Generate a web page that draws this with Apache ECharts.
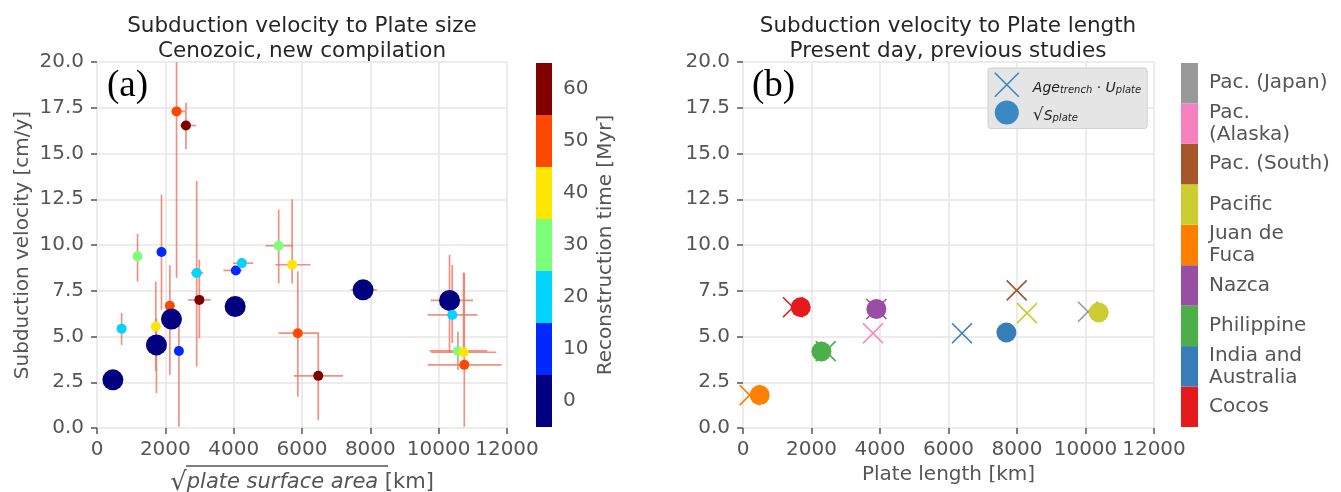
<!DOCTYPE html>
<html>
<head>
<meta charset="utf-8">
<script src="https://cdn.jsdelivr.net/npm/echarts@6/dist/echarts.min.js"></script>
<style>
html,body{margin:0;padding:0;background:#fff;}
#c{width:1341px;height:492px;}
</style>
</head>
<body>
<div id="c"></div>
<script>
// ---------- Panel (a): Cenozoic compilation ----------
const aX    = [465, 720, 1186, 1888, 1720, 1740, 2132, 2180, 2397, 2329, 2603, 2917, 2995, 4044, 4064, 4240, 5318, 5711, 5877, 6476, 7788, 10318, 10397, 10564, 10730, 10750];
const aY    = [2.63, 5.43, 9.38, 9.62, 5.55, 4.54, 6.68, 5.95, 4.21, 17.3, 16.53, 8.47, 7.0, 6.64, 8.61, 9.01, 9.96, 8.92, 5.18, 2.85, 7.55, 6.97, 6.18, 4.21, 4.14, 3.45];
const aT    = [0, 20, 30, 10, 40, 0, 50, 0, 10, 50, 60, 20, 60, 0, 10, 20, 30, 40, 50, 60, 0, 0, 20, 30, 40, 50];
const aXlo  = [465, 720, 1186, 1888, 1720, 1740, 2132, 2180, 2397, 2182, 2426, 2750, 2670, 4000, 3700, 3985, 4926, 5220, 5318, 5760, 7426, 9760, 9680, 9730, 9780, 9680];
const aXhi  = [465, 720, 1186, 1888, 1720, 1740, 2132, 2180, 2397, 2573, 2897, 3110, 3330, 4090, 4250, 4575, 5730, 6250, 6500, 7200, 8190, 11005, 11130, 11420, 11690, 11840];
const aYlo  = [2.63, 4.54, 8.0, 6.46, 3.1, 1.9, 2.9, 5.95, 0.07, 8.2, 15.25, 3.36, 4.9, 6.3, 8.61, 9.01, 7.9, 7.9, 1.71, 0.44, 7.55, 4.1, 4.65, 3.17, 4.1, 0.07];
const aYhi  = [2.63, 6.28, 10.6, 12.75, 8.0, 6.0, 8.9, 5.95, 6.1, 20.0, 17.77, 13.5, 9.2, 7.0, 8.61, 9.01, 11.93, 12.5, 8.56, 5.18, 7.55, 9.47, 8.9, 5.27, 8.5, 8.47];
const timeEdges  = [-5, 5, 15, 25, 35, 45, 55, 65];
const timeTicks  = [0, 10, 20, 30, 40, 50, 60];
const timeColors = ['#000080', '#0028ff', '#00d4ff', '#7dff7a', '#ffe600', '#ff4800', '#800000'];

// ---------- Panel (b): present day, previous studies ----------
const plates      = ['Cocos', 'India and Australia', 'Philippine', 'Nazca', 'Juan de Fuca', 'Pacific', 'Pac. (South)', 'Pac. (Alaska)', 'Pac. (Japan)'];
const plateLabels = ['Cocos', 'India and\nAustralia', 'Philippine', 'Nazca', 'Juan de\nFuca', 'Pacific', 'Pac. (South)', 'Pac.\n(Alaska)', 'Pac. (Japan)'];
const plateColors = ['#e41a1c', '#377eb8', '#4daf4a', '#984ea3', '#ff7f00', '#cccc33', '#a65628', '#f781bf', '#999999'];
const ageX  = [1460, 6394, 2415, 3895, 196, 8292, 7991, 3796, 10073];
const ageY  = [6.6, 5.18, 4.2, 6.5, 1.8, 6.28, 7.52, 5.18, 6.35];
const sqrtX = [1685, 7690, 2289, 3895, 488, 10385, null, null, null];
const sqrtY = [6.6, 5.22, 4.18, 6.5, 1.8, 6.31, null, null, null];

const xTicks = [0, 2000, 4000, 6000, 8000, 10000, 12000];
const yTicks = [0, 2.5, 5, 7.5, 10, 12.5, 15, 17.5, 20];

const FONT = 'DejaVu Sans';
const LABEL = '#555555';
const GRIDC = '#e6e6e6';
const X_PATH = 'path://M0,0L10,10M10,0L0,10';

const chart = echarts.init(document.getElementById('c'), null, {renderer: 'canvas'});

function valueX(gi) {
  return {
    type: 'value', gridIndex: gi, min: xTicks[0], max: xTicks[xTicks.length - 1], interval: xTicks[1] - xTicks[0],
    axisLine: {show: false},
    axisTick: {show: true, length: 6, lineStyle: {color: LABEL, width: 1.5}},
    axisLabel: {fontSize: 20, color: LABEL, margin: 12, fontFamily: FONT, showMinLabel: true, showMaxLabel: true, hideOverlap: false, formatter: v => String(v)},
    splitLine: {show: true, lineStyle: {color: GRIDC, width: 1.5}}
  };
}
function valueY(gi) {
  return {
    type: 'value', gridIndex: gi, min: yTicks[0], max: yTicks[yTicks.length - 1], interval: yTicks[1] - yTicks[0],
    axisLine: {show: false},
    axisTick: {show: true, length: 6, lineStyle: {color: LABEL, width: 1.5}},
    axisLabel: {fontSize: 20, color: LABEL, margin: 13, fontFamily: FONT, formatter: v => v.toFixed(1)},
    splitLine: {show: true, lineStyle: {color: GRIDC, width: 1.5}}
  };
}

const xA = valueX(0);
xA.name = '{r|√}{i|plate surface area}{n| [km]}';
xA.nameLocation = 'middle';
xA.nameGap = 42;
xA.nameTextStyle = {color: LABEL, fontFamily: FONT, fontSize: 21,
  rich: {r: {fontSize: 26, color: LABEL, fontFamily: FONT}, i: {fontSize: 21, fontStyle: 'italic', color: LABEL, fontFamily: FONT}, n: {fontSize: 21, color: LABEL, fontFamily: FONT}}};
const yA = valueY(0);
yA.name = 'Subduction velocity [cm/y]';
yA.nameLocation = 'middle';
yA.nameGap = 64;
yA.nameTextStyle = {color: LABEL, fontSize: 20, fontFamily: FONT};

const xB = valueX(2);
xB.name = 'Plate length [km]';
xB.nameLocation = 'middle';
xB.nameGap = 32;
xB.nameTextStyle = {color: LABEL, fontSize: 20, fontFamily: FONT};
const yB = valueY(2);

const option = {
  animation: false,
  backgroundColor: '#ffffff',
  textStyle: {fontFamily: FONT},
  grid: [
    {left: 97, top: 62, width: 410, height: 366, outerBoundsMode: 'none', containLabel: false},
    {left: 536, top: 63, width: 16, height: 364, outerBoundsMode: 'none', containLabel: false},
    {left: 743, top: 62, width: 411, height: 366, outerBoundsMode: 'none', containLabel: false},
    {left: 1181, top: 63, width: 17, height: 364, outerBoundsMode: 'none', containLabel: false}
  ],
  xAxis: [
    xA,
    {type: 'value', gridIndex: 1, min: 0, max: 1, show: false},
    xB,
    {type: 'value', gridIndex: 3, min: 0, max: 1, show: false}
  ],
  yAxis: [
    yA,
    {
      type: 'value', gridIndex: 1, min: timeEdges[0], max: timeEdges[timeEdges.length - 1], position: 'right',
      axisLine: {show: false}, splitLine: {show: false},
      axisTick: {show: true, length: 6, lineStyle: {color: LABEL, width: 1.5}, customValues: timeTicks},
      axisLabel: {fontSize: 20, color: LABEL, margin: 11, fontFamily: FONT, customValues: timeTicks},
      name: 'Reconstruction time [Myr]', nameLocation: 'middle', nameRotate: 90, nameGap: 44,
      nameTextStyle: {color: LABEL, fontSize: 20, fontFamily: FONT}
    },
    yB,
    {
      type: 'category', gridIndex: 3, data: plateLabels, position: 'right',
      axisLine: {show: false}, splitLine: {show: false},
      axisTick: {show: true, alignWithLabel: true, length: 6, lineStyle: {color: LABEL, width: 1.5}},
      axisLabel: {fontSize: 20, color: LABEL, margin: 11, fontFamily: FONT, lineHeight: 22, align: 'left'}
    }
  ],
  visualMap: [{
    type: 'piecewise', show: false, dimension: 2, seriesIndex: 1,
    pieces: timeColors.map((c, i) => ({gte: timeEdges[i], lt: timeEdges[i + 1], color: c}))
  }],
  legend: {
    left: 988, top: 68, orient: 'vertical',
    backgroundColor: '#e5e5e5', borderColor: '#d0d0d0', borderWidth: 1, borderRadius: 3,
    padding: [4, 6, 4, 6], itemGap: 3, itemWidth: 26, itemHeight: 24,
    data: [
      {name: 'age', icon: X_PATH, itemStyle: {color: '#3a88c4', borderColor: '#3a88c4', borderWidth: 1.6}},
      {name: 'sqrt', icon: 'circle', itemStyle: {color: '#3a88c4'}}
    ],
    formatter: n => n === 'age' ? '{i|Age}{s|trench}{m| · }{i|U}{s|plate}' : '{r|√}{i|S}{s|plate}',
    textStyle: {
      color: '#222', fontFamily: FONT, padding: [0, 0, 0, 8],
      rich: {
        i: {fontSize: 14, fontStyle: 'italic', color: '#222', fontFamily: FONT, verticalAlign: 'bottom', lineHeight: 22},
        s: {fontSize: 10, fontStyle: 'italic', color: '#222', fontFamily: FONT, verticalAlign: 'bottom', lineHeight: 17},
        m: {fontSize: 14, color: '#222', fontFamily: FONT, verticalAlign: 'bottom', lineHeight: 22},
        r: {fontSize: 17, color: '#222', fontFamily: FONT, verticalAlign: 'bottom', lineHeight: 22}
      }
    }
  },
  series: [
    {
      type: 'custom', xAxisIndex: 0, yAxisIndex: 0, z: 1, clip: true,
      encode: {x: 0, y: 1},
      data: aX.map((x, i) => [x, aY[i], aXlo[i], aXhi[i], aYlo[i], aYhi[i]]),
      renderItem: (params, api) => {
        const y = api.value(1), x = api.value(0);
        const xlo = api.value(2), xhi = api.value(3), ylo = api.value(4), yhi = api.value(5);
        const st = {stroke: 'rgba(236,118,98,0.8)', lineWidth: 1.7};
        const ch = [];
        if (xhi > xlo) {
          const a = api.coord([xlo, y]), b = api.coord([xhi, y]);
          ch.push({type: 'line', shape: {x1: a[0], y1: a[1], x2: b[0], y2: b[1]}, style: st});
        }
        if (yhi > ylo) {
          const a = api.coord([x, ylo]), b = api.coord([x, yhi]);
          ch.push({type: 'line', shape: {x1: a[0], y1: a[1], x2: b[0], y2: b[1]}, style: st});
        }
        return {type: 'group', children: ch};
      }
    },
    {
      type: 'scatter', xAxisIndex: 0, yAxisIndex: 0, z: 3,
      itemStyle: {opacity: 1},
      data: aX.map((x, i) => [x, aY[i], aT[i]]),
      symbolSize: v => v[2] === 0 ? 21 : 10
    },
    {
      type: 'custom', xAxisIndex: 1, yAxisIndex: 1, z: 2,
      data: timeColors.map((c, i) => [timeEdges[i], timeEdges[i + 1], i]),
      renderItem: (params, api) => {
        const lo = api.value(0), hi = api.value(1);
        const p0 = api.coord([0, hi]), p1 = api.coord([1, lo]);
        return {type: 'rect', shape: {x: p0[0], y: p0[1], width: p1[0] - p0[0], height: p1[1] - p0[1]},
          style: {fill: timeColors[api.value(2)]}};
      }
    },
    {
      name: 'age', type: 'scatter', xAxisIndex: 2, yAxisIndex: 2, z: 3,
      symbol: X_PATH, symbolSize: 20,
      itemStyle: {color: '#3a88c4', borderColor: '#3a88c4', borderWidth: 1.6, opacity: 1},
      data: plates.map((p, i) => ({value: [ageX[i], ageY[i]], itemStyle: {color: plateColors[i], borderColor: plateColors[i], borderWidth: 1.6, opacity: 1}}))
    },
    {
      name: 'sqrt', type: 'scatter', xAxisIndex: 2, yAxisIndex: 2, z: 4,
      symbol: 'circle', symbolSize: 20,
      itemStyle: {color: '#3a88c4', opacity: 1},
      data: plates.map((p, i) => sqrtX[i] == null ? null : ({value: [sqrtX[i], sqrtY[i]], itemStyle: {color: plateColors[i], opacity: 1}})).filter(d => d)
    },
    {
      type: 'bar', xAxisIndex: 3, yAxisIndex: 3, barWidth: '100%', barGap: 0,
      data: plateColors.map(c => ({value: 1, itemStyle: {color: c}}))
    }
  ],
  graphic: [
    {type: 'text', x: 302, y: 14, style: {text: 'Subduction velocity to Plate size\nCenozoic, new compilation', fontSize: 21.5, lineHeight: 25, fontFamily: FONT, fill: '#262626', align: 'center', verticalAlign: 'top'}},
    {type: 'text', x: 948, y: 14, style: {text: 'Subduction velocity to Plate length\nPresent day, previous studies', fontSize: 21.5, lineHeight: 25, fontFamily: FONT, fill: '#262626', align: 'center', verticalAlign: 'top'}},
    {type: 'text', x: 107, y: 68, style: {text: '(a)', fontSize: 37, fontFamily: 'Liberation Serif', fill: '#000', align: 'left', verticalAlign: 'top'}},
    {type: 'text', x: 752, y: 68, style: {text: '(b)', fontSize: 37, fontFamily: 'Liberation Serif', fill: '#000', align: 'left', verticalAlign: 'top'}},
    {type: 'line', shape: {x1: 186, y1: 466, x2: 388, y2: 466}, style: {stroke: LABEL, lineWidth: 1.3}},
    {type: 'line', shape: {x1: 1045, y1: 106, x2: 1086, y2: 106}, style: {stroke: '#222', lineWidth: 1}}
  ]
};
chart.setOption(option);
</script>
</body>
</html>
